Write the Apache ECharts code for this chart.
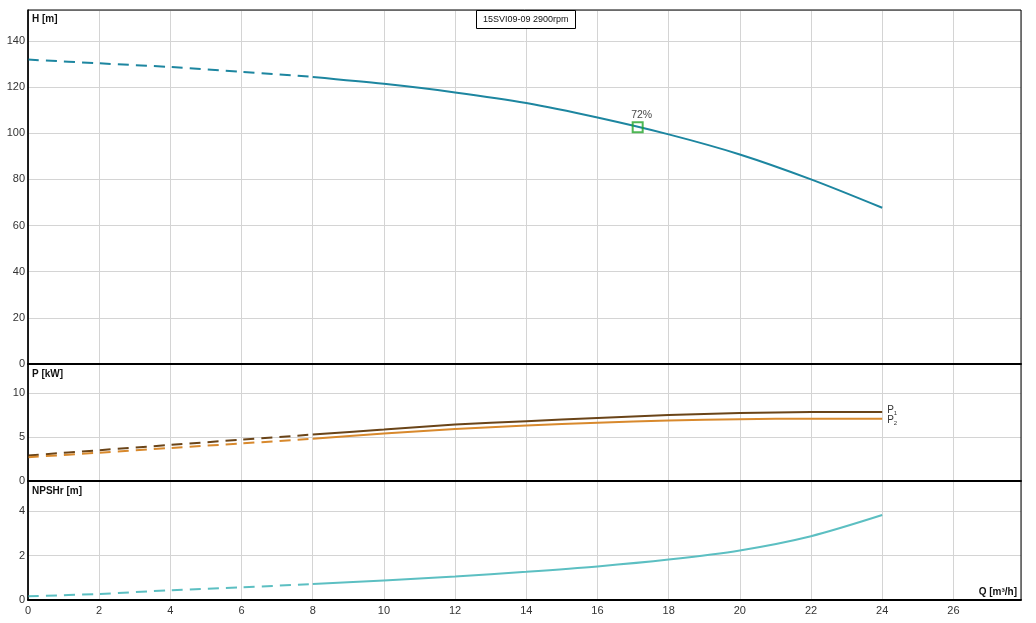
<!DOCTYPE html>
<html><head><meta charset="utf-8">
<script src="https://cdn.jsdelivr.net/npm/echarts@6/dist/echarts.min.js"></script>
<style>html,body{margin:0;padding:0;background:#fff}#c{width:1036px;height:623px}</style>
</head><body><div id="c"></div>
<script>
const title = '15SVI09-09 2900rpm';
const qDashed = [0, 2, 4, 6, 8];
const qSolid = [8, 10, 12, 14, 16, 18, 20, 22, 24];
const headDashed = [131.9, 130.3, 128.7, 126.6, 124.4];
const headSolid = [124.4, 121.4, 117.7, 113.1, 106.8, 99.5, 90.8, 80.0, 67.7];
const p1Dashed = [2.9, 3.5, 4.1, 4.7, 5.28];
const p1Solid = [5.28, 5.85, 6.41, 6.8, 7.17, 7.5, 7.72, 7.83, 7.85];
const p2Dashed = [2.7, 3.22, 3.75, 4.27, 4.8];
const p2Solid = [4.8, 5.4, 5.9, 6.3, 6.62, 6.88, 7.03, 7.09, 7.09];
const npshDashed = [0.17, 0.27, 0.44, 0.57, 0.72];
const npshSolid = [0.72, 0.88, 1.06, 1.27, 1.51, 1.82, 2.23, 2.87, 3.82];
const bepPoint = [17.13, 102.6];
const bepLabel = '72%';
const xTicks = [0, 2, 4, 6, 8, 10, 12, 14, 16, 18, 20, 22, 24, 26];
const axisNames = ['H [m]', 'P [kW]', 'NPSHr [m]', 'Q [m³/h]'];

const pair = (xs, ys) => xs.map((x, i) => [x, ys[i]]);
const font = 'Arial, "Liberation Sans", sans-serif';
const dash = [11, 7];

const chart = echarts.init(document.getElementById('c'), null, {renderer: 'canvas'});

function xAxis(idx, showLabels) {
  return {
    type: 'value', gridIndex: idx, min: 0, max: 27.9, interval: 2,
    axisLine: {show: true, onZero: false, lineStyle: {color: '#000', width: 2}},
    axisTick: {show: false},
    axisLabel: {show: showLabels, showMaxLabel: false, color: '#333', fontSize: 11, fontFamily: font, margin: 5,
      formatter: v => xTicks.includes(v) ? String(v) : ''},
    splitLine: {show: true, lineStyle: {color: '#d4d4d4', width: 1}}
  };
}
function yAxis(idx, max, interval) {
  return {
    type: 'value', gridIndex: idx, min: 0, max: max, interval: interval,
    axisLine: {show: true, lineStyle: {color: '#000', width: 1.5}},
    axisTick: {show: false},
    axisLabel: {showMaxLabel: false, color: '#333', fontSize: 11, fontFamily: font, margin: 3},
    splitLine: {show: true, lineStyle: {color: '#d4d4d4', width: 1}}
  };
}
function line(name, xi, data, color, dashed, extra) {
  return Object.assign({
    name: name, type: 'line', xAxisIndex: xi, yAxisIndex: xi, data: data,
    smooth: 0.3, showSymbol: false, symbol: 'none', silent: true,
    lineStyle: {color: color, width: 2, type: dashed ? dash : 'solid'}
  }, extra || {});
}

const hColor = '#1d86a0', p1Color = '#6a4418', p2Color = '#d8892d', nColor = '#5cbfc2';

chart.setOption({
  animation: false,
  title: {
    text: title, left: 476, top: 10,
    padding: [5, 7, 4, 7], borderColor: '#000', borderWidth: 1, backgroundColor: '#fff',
    textStyle: {fontSize: 9, lineHeight: 10, fontWeight: 'normal', color: '#111', fontFamily: font}
  },
  grid: [
    {left: 28, right: 15, top: 10, height: 354, show: true, borderColor: '#000', borderWidth: 1, z: 5},
    {left: 28, right: 15, top: 364, height: 117, show: true, borderColor: '#000', borderWidth: 1, z: 5},
    {left: 28, right: 15, top: 481, height: 119, show: true, borderColor: '#000', borderWidth: 1, z: 5}
  ],
  xAxis: [xAxis(0, false), xAxis(1, false), xAxis(2, true)],
  yAxis: [yAxis(0, 153.4, 20), yAxis(1, 13.3, 5), yAxis(2, 5.35, 2)],
  graphic: [
    {type: 'text', left: 32, top: 14, style: {text: axisNames[0], font: 'bold 10px ' + font, fill: '#111'}},
    {type: 'text', left: 32, top: 369, style: {text: axisNames[1], font: 'bold 10px ' + font, fill: '#111'}},
    {type: 'text', left: 32, top: 486, style: {text: axisNames[2], font: 'bold 10px ' + font, fill: '#111'}},
    {type: 'text', right: 19, top: 587, style: {text: axisNames[3], font: 'bold 10px ' + font, fill: '#111'}}
  ],
  series: [
    line('H dashed', 0, pair(qDashed, headDashed), hColor, true),
    line('H', 0, pair(qSolid, headSolid), hColor, false),
    {
      name: 'BEP', type: 'scatter', xAxisIndex: 0, yAxisIndex: 0, data: [bepPoint],
      symbol: 'rect', symbolSize: 10, silent: true, z: 4,
      itemStyle: {color: 'rgba(0,0,0,0)', borderColor: '#22a52a', borderWidth: 2},
      label: {show: true, position: 'top', distance: 1, offset: [4, 0], formatter: bepLabel, color: '#111', fontSize: 10.5, fontFamily: font}
    },
    line('P1 dashed', 1, pair(qDashed, p1Dashed), p1Color, true),
    line('P2 dashed', 1, pair(qDashed, p2Dashed), p2Color, true),
    line('P1', 1, pair(qSolid, p1Solid), p1Color, false, {
      endLabel: {show: true, distance: 5, offset: [0, -2], formatter: 'P{s|1}', color: '#333', fontSize: 10, fontFamily: font,
        rich: {s: {fontSize: 6, verticalAlign: 'bottom', padding: [6, 0, 0, 0], color: '#333'}}}
    }),
    line('P2', 1, pair(qSolid, p2Solid), p2Color, false, {
      endLabel: {show: true, distance: 5, offset: [0, 2], formatter: 'P{s|2}', color: '#333', fontSize: 10, fontFamily: font,
        rich: {s: {fontSize: 6, verticalAlign: 'bottom', padding: [6, 0, 0, 0], color: '#333'}}}
    }),
    line('NPSHr dashed', 2, pair(qDashed, npshDashed), nColor, true),
    line('NPSHr', 2, pair(qSolid, npshSolid), nColor, false)
  ]
});
</script></body></html>
